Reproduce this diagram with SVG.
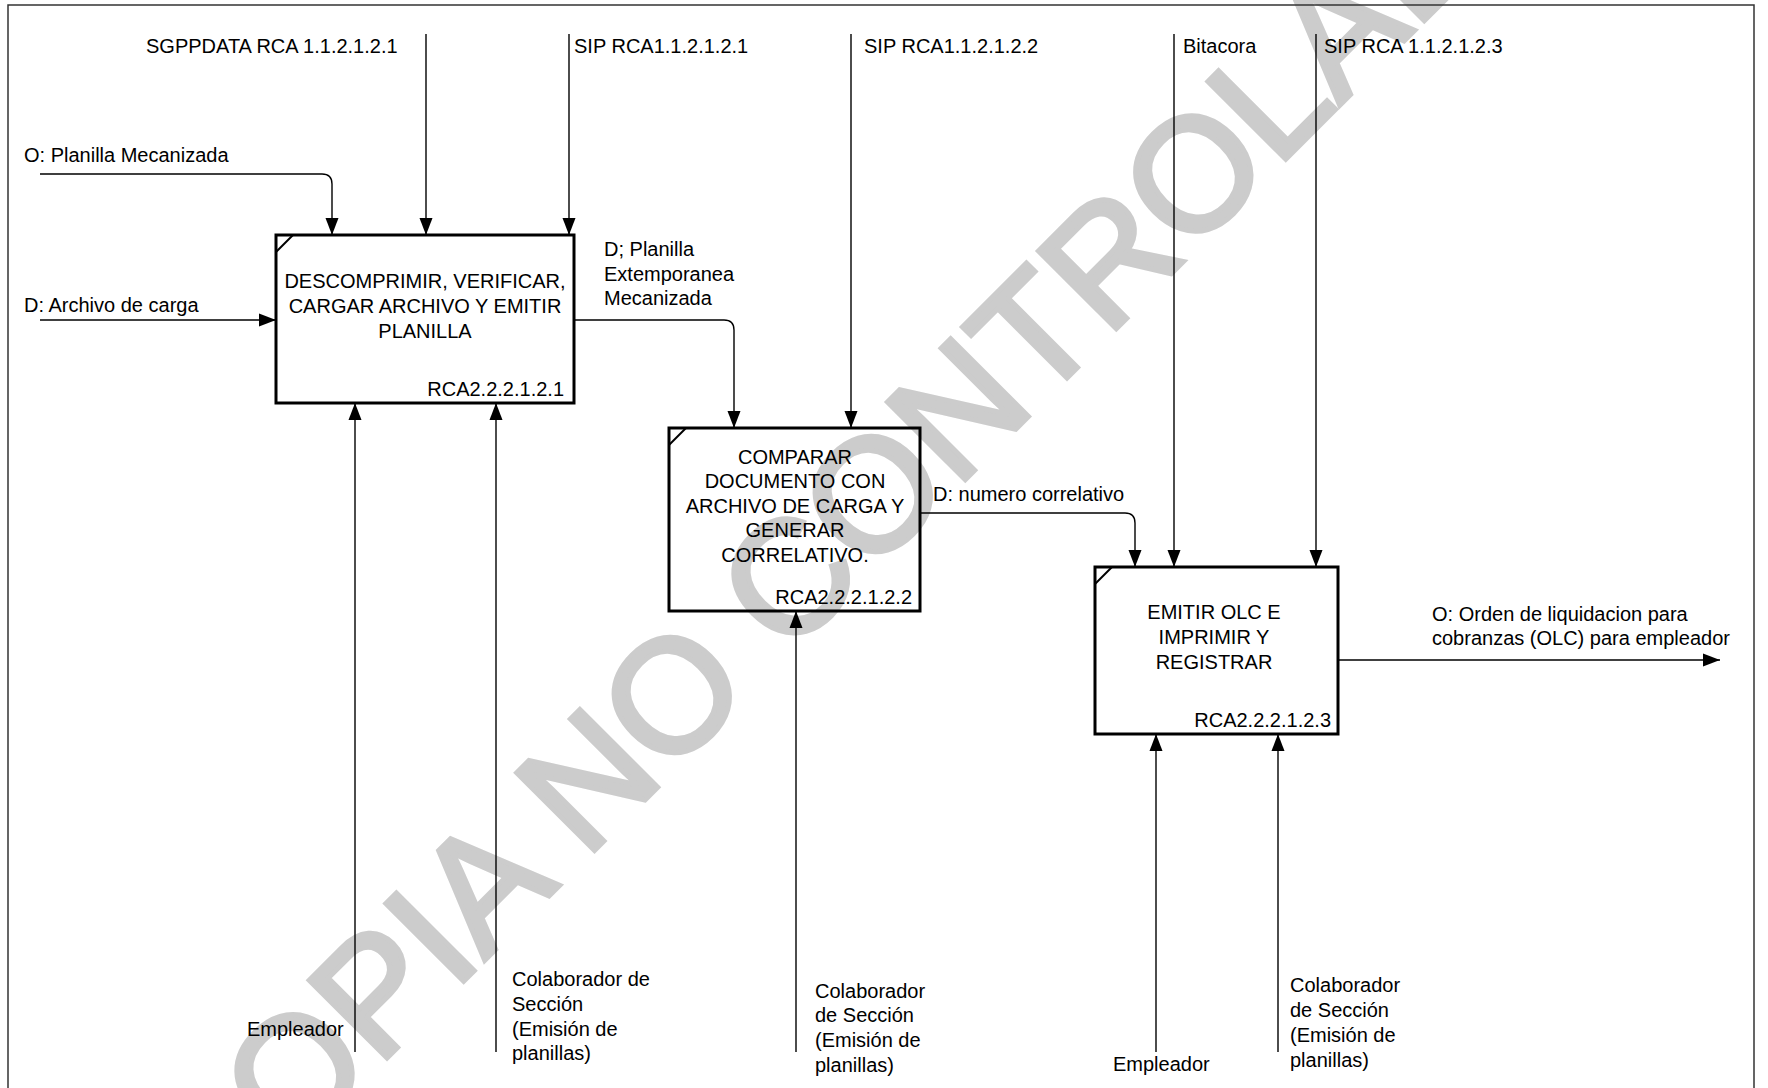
<svg xmlns="http://www.w3.org/2000/svg" width="1768" height="1088" viewBox="0 0 1768 1088">
  <defs>
    <marker id="arrow" markerUnits="userSpaceOnUse" markerWidth="18" markerHeight="14" refX="17" refY="7" orient="auto">
      <path d="M0,0.5 L17,7 L0,13.5 z" fill="#000"/>
    </marker>
    <style>
      text { font-family: "Liberation Sans", Arial, sans-serif; font-size: 20px; fill: #000; }
      .mid { text-anchor: middle; }
      .end { text-anchor: end; }
      .frame { fill: none; stroke: #333; stroke-width: 1.5; }
      .box { fill: none; stroke: #000; stroke-width: 3; }
      .notch { fill: none; stroke: #000; stroke-width: 2; }
      .flow { fill: none; stroke: #000; stroke-width: 1.4; marker-end: url(#arrow); }
      .wm { font-size: 160px; fill: #cccccc; stroke: #cccccc; stroke-width: 5; stroke-linejoin: miter; }
    </style>
  </defs>

  <rect width="1768" height="1088" fill="#fff"/>

  <!-- watermark -->
  <text class="wm" x="208" y="1237" transform="rotate(-45 208 1237)">COPIA NO CONTROLADA</text>

  <!-- page frame -->
  <path class="frame" d="M8,1095 V5 H1754 V1095"/>

  <!-- connectors -->
  <g id="connectors">
    <path class="flow" d="M426,34 V235"/>
    <path class="flow" d="M569,34 V235"/>
    <path class="flow" d="M40,174 H322 Q332,174 332,184 V235"/>
    <path class="flow" d="M40,320 H276"/>
    <path class="flow" d="M574,320 H724 Q734,320 734,330 V428"/>
    <path class="flow" d="M851,34 V428"/>
    <path class="flow" d="M1174,34 V567"/>
    <path class="flow" d="M1316,34 V567"/>
    <path class="flow" d="M920,513 H1125 Q1135,513 1135,523 V567"/>
    <path class="flow" d="M1338,660 H1720"/>
    <path class="flow" d="M355,1052 V403"/>
    <path class="flow" d="M496,1052 V403"/>
    <path class="flow" d="M796,1052 V611"/>
    <path class="flow" d="M1156,1052 V734"/>
    <path class="flow" d="M1278,1052 V734"/>

    <text x="146" y="53">SGPPDATA RCA 1.1.2.1.2.1</text>
    <text x="574" y="53">SIP RCA1.1.2.1.2.1</text>
    <text x="864" y="53">SIP RCA1.1.2.1.2.2</text>
    <text x="1183" y="53">Bitacora</text>
    <text x="1324" y="53">SIP RCA 1.1.2.1.2.3</text>
    <text x="24" y="162">O: Planilla Mecanizada</text>
    <text x="24" y="312">D: Archivo de carga</text>
    <text x="604" y="256">D; Planilla</text>
    <text x="604" y="281">Extemporanea</text>
    <text x="604" y="305">Mecanizada</text>
    <text x="933" y="501">D: numero correlativo</text>
    <text x="1432" y="621">O: Orden de liquidacion para</text>
    <text x="1432" y="645">cobranzas (OLC) para empleador</text>
    <text x="247" y="1036">Empleador</text>
    <text x="512" y="986">Colaborador de</text>
    <text x="512" y="1011">Sección</text>
    <text x="512" y="1036">(Emisión de</text>
    <text x="512" y="1060">planillas)</text>
    <text x="815" y="998">Colaborador</text>
    <text x="815" y="1022">de Sección</text>
    <text x="815" y="1047">(Emisión de</text>
    <text x="815" y="1072">planillas)</text>
    <text x="1113" y="1071">Empleador</text>
    <text x="1290" y="992">Colaborador</text>
    <text x="1290" y="1017">de Sección</text>
    <text x="1290" y="1042">(Emisión de</text>
    <text x="1290" y="1067">planillas)</text>
  </g>

  <!-- activity A1 -->
  <g id="node-rca-2-2-2-1-2-1">
    <rect class="box" x="276" y="235" width="298" height="168"/>
    <path class="notch" d="M276,252 L293,235"/>
    <text class="mid" x="425" y="288">DESCOMPRIMIR, VERIFICAR,</text>
    <text class="mid" x="425" y="313">CARGAR ARCHIVO Y EMITIR</text>
    <text class="mid" x="425" y="338">PLANILLA</text>
    <text class="end" x="564" y="396">RCA2.2.2.1.2.1</text>
  </g>

  <!-- activity A2 -->
  <g id="node-rca-2-2-2-1-2-2">
    <rect class="box" x="669" y="428" width="251" height="183"/>
    <path class="notch" d="M669,445 L686,428"/>
    <text class="mid" x="795" y="464">COMPARAR</text>
    <text class="mid" x="795" y="488">DOCUMENTO CON</text>
    <text class="mid" x="795" y="513">ARCHIVO DE CARGA Y</text>
    <text class="mid" x="795" y="537">GENERAR</text>
    <text class="mid" x="795" y="562">CORRELATIVO.</text>
    <text class="end" x="912" y="604">RCA2.2.2.1.2.2</text>
  </g>

  <!-- activity A3 -->
  <g id="node-rca-2-2-2-1-2-3">
    <rect class="box" x="1095" y="567" width="243" height="167"/>
    <path class="notch" d="M1095,584 L1112,567"/>
    <text class="mid" x="1214" y="619">EMITIR OLC E</text>
    <text class="mid" x="1214" y="644">IMPRIMIR Y</text>
    <text class="mid" x="1214" y="669">REGISTRAR</text>
    <text class="end" x="1331" y="727">RCA2.2.2.1.2.3</text>
  </g>
</svg>
